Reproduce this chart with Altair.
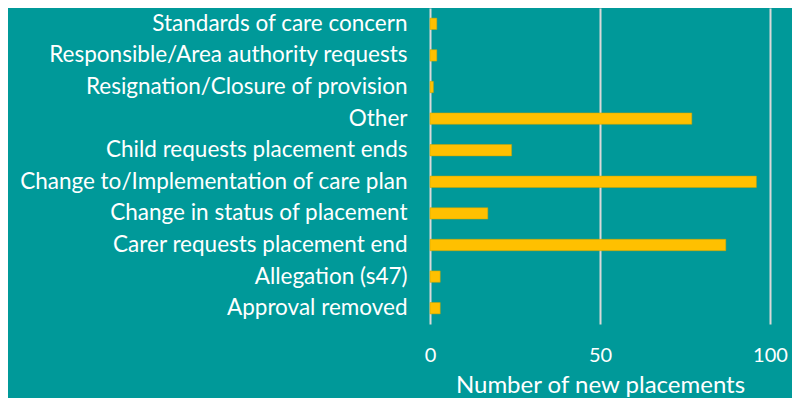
import altair as alt
import pandas as pd

categories = [
    "Standards of care concern",
    "Responsible/Area authority requests ",
    "Resignation/Closure of provision",
    "Other",
    "Child requests placement ends",
    "Change to/Implementation of care plan",
    "Change in status of placement",
    "Carer requests placement end",
    "Allegation (s47)",
    "Approval removed",
]
values = [2, 2, 1, 77, 24, 96, 17, 87, 3, 3]
x_ticks = [0, 50, 100]

df = pd.DataFrame({"reason": categories, "count": values})

BG = "#009999"
FONT = "Lato"

chart = (
    alt.Chart(df)
    .mark_bar(color="#FFC000", stroke="#C9A400", strokeWidth=0.5)
    .encode(
        x=alt.X(
            "count:Q",
            scale=alt.Scale(domain=[0, 100], nice=False),
            axis=alt.Axis(
                values=x_ticks,
                title="Number of new placements",
                grid=True,
                gridColor="#D9D9D9",
                gridWidth=2,
                domain=False,
                ticks=False,
                labelColor="white",
                labelFont=FONT,
                labelFontSize=20,
                labelPadding=21,
                labelFlush=False,
                labelOverlap=False,
                titleColor="white",
                titleFont=FONT,
                titleFontSize=24,
                titleFontWeight="normal",
                titlePadding=8,
            ),
        ),
        y=alt.Y(
            "reason:N",
            sort=categories,
            scale=alt.Scale(paddingInner=0.64, paddingOuter=0.32),
            axis=alt.Axis(
                title=None,
                domain=False,
                ticks=False,
                labelColor="white",
                labelFont=FONT,
                labelFontSize=22.5,
                labelPadding=23,
                labelLimit=500,
            ),
        ),
    )
    .properties(
        width=340,
        height=316,
        background=BG,
        padding={"left": 422, "top": 0, "right": 22, "bottom": 74},
        autosize=alt.AutoSizeParams(type="none"),
    )
    .configure_view(stroke=None)
)

chart.save("out.html", embed_options={"renderer": "svg", "actions": False})
